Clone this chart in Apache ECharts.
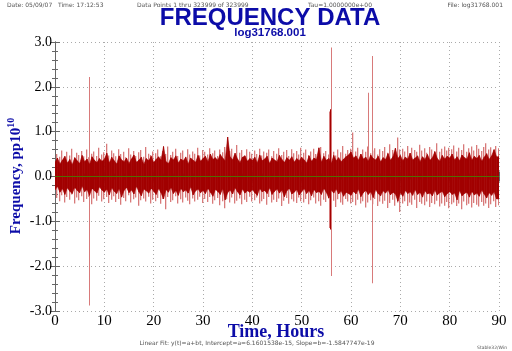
<!DOCTYPE html>
<html><head><meta charset="utf-8">
<script src="https://cdn.jsdelivr.net/npm/echarts@6/dist/echarts.min.js"></script>
<style>html,body{margin:0;padding:0;background:#fff}#c{width:512px;height:351px}</style>
</head><body><div id="c"></div>
<script>
// Bin width (hours) of the envelope samples
const binHours = 0.5;
// Dark red band: upper / lower envelope per half-hour bin (pp10^10)
const darkHi = [
0.32,0.41,0.28,0.36,0.45,0.30,0.38,0.26,0.42,0.35,0.29,0.47,0.33,0.39,0.27,0.44,0.36,0.31,0.40,0.34,
0.38,0.52,0.30,0.43,0.35,0.28,0.46,0.37,0.33,0.41,0.29,0.39,0.48,0.32,0.36,0.43,0.27,0.40,0.35,0.45,
0.31,0.38,0.44,0.36,0.67,0.33,0.29,0.42,0.37,0.46,0.30,0.39,0.35,0.43,0.28,0.41,0.36,0.32,0.47,0.34,
0.40,0.45,0.33,0.50,0.38,0.42,0.36,0.49,0.41,0.35,0.88,0.44,0.37,0.52,0.39,0.31,0.43,0.46,0.34,0.40,
0.36,0.43,0.30,0.48,0.35,0.39,0.45,0.29,0.41,0.37,0.33,0.47,0.38,0.31,0.42,0.36,0.44,0.32,0.40,0.35,
0.43,0.37,0.30,0.46,0.34,0.41,0.38,0.64,0.32,0.45,0.36,0.40,0.29,0.47,0.35,0.42,0.33,0.39,0.44,0.48,
0.55,0.41,0.46,0.36,0.50,0.39,0.43,0.34,0.48,0.40,0.37,0.45,0.33,0.42,0.38,0.51,0.36,0.44,0.63,0.40,
0.47,0.35,0.43,0.39,0.52,0.37,0.41,0.46,0.33,0.44,0.38,0.49,0.36,0.42,0.55,0.40,0.34,0.47,0.39,0.45,
0.41,0.50,0.37,0.44,0.35,0.48,0.42,0.39,0.53,0.36,0.45,0.40,0.47,0.34,0.43,0.51,0.38,0.46,0.60,0.44];
const darkLo = [
-0.30,-0.22,-0.35,-0.27,-0.40,-0.25,-0.33,-0.38,-0.24,-0.31,-0.36,-0.21,-0.34,-0.29,-0.42,-0.26,-0.32,-0.37,-0.23,-0.30,
-0.35,-0.28,-0.41,-0.25,-0.33,-0.38,-0.27,-0.46,-0.31,-0.24,-0.36,-0.30,-0.39,-0.22,-0.34,-0.43,-0.28,-0.32,-0.37,-0.26,
-0.33,-0.40,-0.27,-0.36,-0.50,-0.29,-0.35,-0.24,-0.38,-0.31,-0.42,-0.26,-0.34,-0.30,-0.37,-0.23,-0.41,-0.32,-0.28,-0.36,
-0.31,-0.38,-0.26,-0.35,-0.44,-0.29,-0.33,-0.40,-0.27,-0.52,-0.36,-0.30,-0.39,-0.25,-0.34,-0.41,-0.28,-0.37,-0.32,-0.35,
-0.29,-0.36,-0.42,-0.27,-0.34,-0.31,-0.38,-0.25,-0.40,-0.33,-0.28,-0.37,-0.30,-0.45,-0.32,-0.26,-0.39,-0.35,-0.29,-0.41,
-0.34,-0.27,-0.38,-0.31,-0.43,-0.29,-0.36,-0.33,-0.40,-0.26,-0.35,-0.48,-0.30,-0.37,-0.28,-0.39,-0.32,-0.44,-0.35,-0.38,
-0.42,-0.33,-0.39,-0.28,-0.45,-0.36,-0.31,-0.40,-0.34,-0.47,-0.29,-0.38,-0.43,-0.32,-0.37,-0.30,-0.41,-0.35,-0.39,-0.55,
-0.36,-0.44,-0.31,-0.38,-0.34,-0.42,-0.29,-0.40,-0.35,-0.46,-0.32,-0.39,-0.37,-0.43,-0.30,-0.41,-0.36,-0.33,-0.45,-0.38,
-0.34,-0.40,-0.37,-0.52,-0.31,-0.43,-0.38,-0.35,-0.46,-0.33,-0.41,-0.37,-0.44,-0.30,-0.39,-0.48,-0.36,-0.42,-0.34,-0.50];
// Light red fringe: upper / lower extremes per half-hour bin
const lightHi = [
0.50,0.44,0.58,0.40,0.55,0.47,0.62,0.42,0.53,0.48,0.57,0.45,0.60,0.43,0.51,0.56,0.46,0.64,0.49,0.54,
0.73,0.47,0.58,0.52,0.45,0.61,0.50,0.55,0.43,0.63,0.49,0.57,0.46,0.54,0.59,0.44,0.66,0.51,0.48,0.56,
0.52,0.60,0.45,0.57,0.50,0.67,0.48,0.55,0.62,0.46,0.53,0.58,0.44,0.61,0.49,0.56,0.51,0.64,0.47,0.59,
0.55,0.49,0.63,0.52,0.58,0.46,0.60,0.54,0.66,0.50,0.57,0.62,0.48,0.70,0.53,0.59,0.47,0.61,0.55,0.51,
0.58,0.50,0.62,0.47,0.56,0.53,0.60,0.45,0.57,0.51,0.63,0.48,0.55,0.59,0.46,0.61,0.52,0.57,0.49,0.64,
0.53,0.60,0.48,0.56,0.62,0.50,0.58,0.66,0.52,0.57,0.49,0.63,0.55,0.47,0.60,0.54,0.68,0.51,0.59,0.62,
0.98,0.56,0.64,0.50,0.60,0.55,0.67,0.52,0.58,0.63,0.49,0.61,0.57,0.66,0.53,0.72,0.59,0.54,0.87,0.60,
0.62,0.56,0.68,0.52,0.64,0.59,0.55,0.71,0.58,0.63,0.53,0.66,0.60,0.57,0.74,0.55,0.62,0.67,0.58,0.64,
0.61,0.69,0.56,0.64,0.59,0.72,0.55,0.63,0.67,0.58,0.70,0.62,0.57,0.66,0.74,0.60,0.65,0.58,0.68,0.63];
const lightLo = [
-0.48,-0.55,-0.42,-0.58,-0.46,-0.52,-0.40,-0.60,-0.47,-0.53,-0.44,-0.57,-0.50,-0.45,-0.62,-0.49,-0.54,-0.43,-0.56,-0.51,
-0.46,-0.59,-0.52,-0.44,-0.57,-0.50,-0.63,-0.48,-0.55,-0.42,-0.58,-0.51,-0.47,-0.65,-0.53,-0.49,-0.56,-0.45,-0.60,-0.52,
-0.55,-0.48,-0.61,-0.50,-0.73,-0.46,-0.57,-0.53,-0.44,-0.60,-0.51,-0.58,-0.47,-0.54,-0.62,-0.49,-0.56,-0.52,-0.45,-0.59,
-0.50,-0.57,-0.46,-0.61,-0.53,-0.48,-0.64,-0.55,-0.71,-0.51,-0.58,-0.47,-0.60,-0.54,-0.49,-0.62,-0.52,-0.57,-0.45,-0.56,
-0.53,-0.47,-0.60,-0.55,-0.50,-0.63,-0.46,-0.58,-0.52,-0.57,-0.49,-0.66,-0.54,-0.48,-0.61,-0.51,-0.56,-0.59,-0.47,-0.55,
-0.58,-0.50,-0.62,-0.53,-0.47,-0.60,-0.55,-0.65,-0.52,-0.57,-0.49,-0.61,-0.54,-0.68,-0.51,-0.58,-0.63,-0.50,-0.56,-0.60,
-0.57,-0.64,-0.52,-0.60,-0.55,-0.69,-0.58,-0.53,-0.62,-0.50,-0.66,-0.56,-0.61,-0.54,-0.70,-0.59,-0.52,-0.65,-0.58,-0.79,
-0.60,-0.55,-0.66,-0.58,-0.63,-0.52,-0.70,-0.57,-0.61,-0.64,-0.56,-0.68,-0.59,-0.62,-0.54,-0.67,-0.60,-0.65,-0.57,-0.71,
-0.62,-0.58,-0.66,-0.60,-0.73,-0.56,-0.64,-0.61,-0.69,-0.59,-0.63,-0.67,-0.57,-0.65,-0.60,-0.70,-0.62,-0.55,-0.68,-0.64];
// Large outliers (light red) and the dark one at ~55.8 h
const spikeT  = [6.8, 55.5, 55.9, 63.4, 64.2];
const spikeHi = [2.22, 1.45, 2.88, 1.87, 2.69];
const spikeLo = [-2.88, -1.15, -2.22, -0.30, -2.38];
const darkSpikeT = [55.8];
const darkSpikeHi = [1.50];
const darkSpikeLo = [-1.18];
// Linear fit line endpoints
const fitT = [0, 90];
const fitV = [6.16e-5, 6.16e-5];

const DARK = '#a20000', LIGHT = '#d87a7a', BLUE = '#0c0ca8', AX = '#666';

const darkData = darkHi.map((h, i) => [i * binHours, h, darkLo[i]]);
darkData.push([90, darkHi[darkHi.length - 1], darkLo[darkLo.length - 1]]);
const lightData = lightHi.map((h, i) => [i * binHours + binHours / 2, h, lightLo[i]]);
const spikeData = spikeT.map((t, i) => [t, spikeHi[i], spikeLo[i]]);
const darkSpikeData = darkSpikeT.map((t, i) => [t, darkSpikeHi[i], darkSpikeLo[i]]);

// jagged polygon between consecutive samples (noise envelope)
function polyRender(color, data) {
  return function (params, api) {
    const i = params.dataIndex;
    if (i >= data.length - 1) return null;
    const a = data[i], b = data[i + 1];
    const p = [api.coord([a[0], a[1]]), api.coord([b[0], b[1]]),
               api.coord([b[0], b[2]]), api.coord([a[0], a[2]])];
    return { type: 'polygon', shape: { points: p },
             style: { fill: color, stroke: color, lineWidth: 0.6 } };
  };
}
function spikeRender(color, w) {
  return function (params, api) {
    const t = api.value(0);
    const a = api.coord([t, api.value(1)]);
    const b = api.coord([t, api.value(2)]);
    return { type: 'rect', shape: { x: Math.round(a[0]), y: a[1], width: w, height: b[1] - a[1] },
             style: { fill: color } };
  };
}

const chart = echarts.init(document.getElementById('c'), null, { renderer: 'canvas' });
const axisCommon = {
  type: 'value', axisLine: { show: true, lineStyle: { color: AX, width: 1 } },
  axisTick: { show: true, inside: true, length: 5, lineStyle: { color: AX } },
  minorTick: { show: true, splitNumber: 5, length: 3, lineStyle: { color: AX } },
};
chart.setOption({
  animation: false,
  backgroundColor: '#fff',
  grid: { left: 55, right: 13, top: 42, bottom: 40 },
  xAxis: [
    Object.assign({}, axisCommon, { min: 0, max: 90, interval: 10, position: 'bottom',
      axisLabel: { color: '#000', fontFamily: 'Liberation Serif', fontSize: 15, margin: 3 },
      splitLine: { show: true, lineStyle: { color: '#aaa', type: [1, 3] } } }),
    Object.assign({}, axisCommon, { min: 0, max: 90, interval: 10, position: 'top',
      axisLabel: { show: false }, splitLine: { show: false } })
  ],
  yAxis: [
    Object.assign({}, axisCommon, { min: -3, max: 3, interval: 1, position: 'left',
      axisLabel: { color: '#000', fontFamily: 'Liberation Serif', fontSize: 14, margin: 3,
        formatter: v => v.toFixed(1) },
      splitLine: { show: true, lineStyle: { color: '#aaa', type: [1, 3] } } }),
    Object.assign({}, axisCommon, { min: -3, max: 3, interval: 1, position: 'right',
      axisLabel: { show: false }, splitLine: { show: false } })
  ],
  series: [
    { type: 'custom', renderItem: spikeRender(LIGHT, 1.3), data: lightData, clip: true, z: 2,
      encode: { x: 0, y: [1, 2] } },
    { type: 'custom', renderItem: spikeRender(LIGHT, 1), data: spikeData, clip: true, z: 3,
      encode: { x: 0, y: [1, 2] } },
    { type: 'custom', renderItem: polyRender(DARK, darkData), data: darkData, clip: true, z: 4,
      encode: { x: 0, y: [1, 2] } },
    { type: 'custom', renderItem: spikeRender(DARK, 1), data: darkSpikeData, clip: true, z: 5,
      encode: { x: 0, y: [1, 2] } },
    { type: 'line', data: fitT.map((t, i) => [t, fitV[i]]), symbol: 'none', z: 6,
      lineStyle: { color: '#4f7000', width: 1 } }
  ],
  graphic: [
    { type: 'text', left: 7, top: 2, style: { text: 'Date: 05/09/07   Time: 17:12:53', font: '6px "DejaVu Sans"', fill: '#555' } },
    { type: 'text', left: 137, top: 2, style: { text: 'Data Points 1 thru 323999 of 323999', font: '6px "DejaVu Sans"', fill: '#555' } },
    { type: 'text', left: 308, top: 2, style: { text: 'Tau=1.0000000e+00', font: '6px "DejaVu Sans"', fill: '#555' } },
    { type: 'text', right: 9, top: 2, style: { text: 'File: log31768.001', font: '6px "DejaVu Sans"', fill: '#555' } },
    { type: 'text', x: 270, y: 18, style: { text: 'FREQUENCY DATA', font: 'bold 24px "Liberation Sans"', fill: BLUE, textAlign: 'center', textVerticalAlign: 'middle' } },
    { type: 'text', x: 270, y: 33, style: { text: 'log31768.001', font: 'bold 11.5px "Liberation Sans"', fill: BLUE, textAlign: 'center', textVerticalAlign: 'middle' } },
    { type: 'text', x: 15, y: 176, rotation: Math.PI / 2, style: {
        text: '{b|Frequency, pp10}{s|10}', textAlign: 'center', textVerticalAlign: 'middle',
        rich: { b: { font: 'bold 15px "Liberation Serif"', fill: BLUE, color: BLUE, verticalAlign: 'bottom' },
                s: { font: 'bold 10px "Liberation Serif"', fill: BLUE, color: BLUE, padding: [0, 0, 8, 0], verticalAlign: 'top' } } } },
    { type: 'text', x: 276, y: 332, style: { text: 'Time, Hours', font: 'bold 18px "Liberation Serif"', fill: BLUE, textAlign: 'center', textVerticalAlign: 'middle' } },
    { type: 'text', x: 257, y: 343, style: { text: 'Linear Fit: y(t)=a+bt, Intercept=a=6.1601538e-15, Slope=b=-1.5847747e-19', font: '6px "DejaVu Sans"', fill: '#555', textAlign: 'center', textVerticalAlign: 'middle' } },
    { type: 'text', x: 507, y: 348, style: { text: 'Stable32/Win', font: '4.5px "DejaVu Sans"', fill: '#555', textAlign: 'right', textVerticalAlign: 'middle' } }
  ]
});
</script>
</body></html>
